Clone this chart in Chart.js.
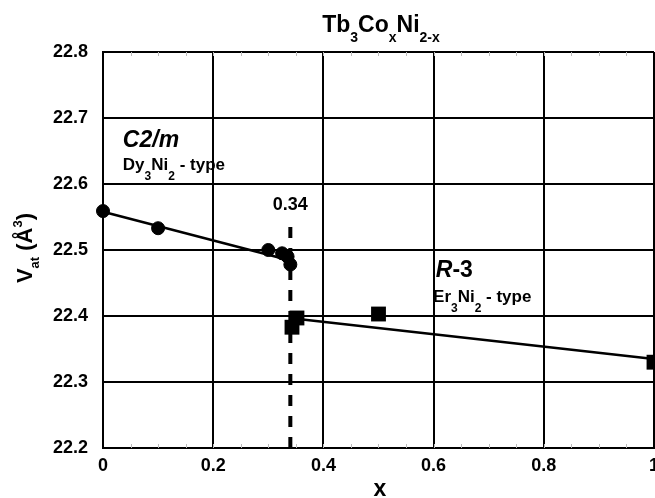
<!DOCTYPE html>
<html>
<head>
<meta charset="utf-8">
<script src="https://cdn.jsdelivr.net/npm/chart.js@4/dist/chart.umd.min.js"></script>
<style>
  html, body { margin: 0; padding: 0; background: #fff; }
  #wrap { width: 655px; height: 498px; }
</style>
</head>
<body>
<div id="wrap"><canvas id="chart" width="655" height="498"></canvas></div>
<script>
"use strict";

// ── Data ────────────────────────────────────────────────────────────────
const circleX = [0, 0.10, 0.30, 0.325, 0.335, 0.34];
const circleY = [22.559, 22.533, 22.500, 22.495, 22.490, 22.478];

const squareX = [0.343, 0.352, 0.50, 1.00];
const squareY = [22.383, 22.397, 22.403, 22.330];

const fitAX = [0, 0.34];
const fitAY = [22.558, 22.484];
const fitBX = [0.35, 1.00];
const fitBY = [22.396, 22.335];

const splitX = [0.34, 0.34];
const splitY = [22.2, 22.545];

const xTicks = [0, 0.2, 0.4, 0.6, 0.8, 1];
const yTicks = [22.2, 22.3, 22.4, 22.5, 22.6, 22.7, 22.8];

const pts = (xs, ys) => xs.map((x, i) => ({ x, y: ys[i] }));

const FONT = "'Liberation Sans', Arial, Helvetica, sans-serif";

// ── Rich text helper (sub/superscripts) ─────────────────────────────────
function drawRich(ctx, x, y, parts, align) {
  let total = 0;
  parts.forEach(p => {
    ctx.font = (p.italic ? "italic " : "") + "bold " + p.size + "px " + FONT;
    p.w = ctx.measureText(p.t).width;
    total += p.w;
  });
  let cx = align === "center" ? x - total / 2 : x;
  ctx.textAlign = "left";
  ctx.textBaseline = "alphabetic";
  parts.forEach(p => {
    ctx.font = (p.italic ? "italic " : "") + "bold " + p.size + "px " + FONT;
    ctx.fillText(p.t, cx, y + (p.dy || 0));
    cx += p.w;
  });
}

// ── Annotations, title, axis titles, minor ticks ────────────────────────
const decorPlugin = {
  id: "decor",
  beforeDatasetsDraw(chart) {
    const { ctx, chartArea: a, scales: { x } } = chart;
    ctx.save();
    ctx.strokeStyle = "#bbb";
    ctx.lineWidth = 1;
    for (let v = 0.05; v < 1; v += 0.05) {
      const px = Math.round(x.getPixelForValue(v)) + 0.5;
      ctx.beginPath();
      ctx.moveTo(px, a.top); ctx.lineTo(px, a.top + 4);
      ctx.moveTo(px, a.bottom); ctx.lineTo(px, a.bottom - 4);
      ctx.stroke();
    }
    ctx.restore();
  },
  afterDraw(chart) {
    const { ctx, scales: { x, y } } = chart;
    ctx.save();
    ctx.fillStyle = "#000";

    // title
    drawRich(ctx, 381, 32, [
      { t: "Tb", size: 23 }, { t: "3", size: 14, dy: 10 },
      { t: "Co", size: 23 }, { t: "x", size: 14, dy: 10 },
      { t: "Ni", size: 23 }, { t: "2-x", size: 14, dy: 10 }
    ], "center");

    // x axis title
    drawRich(ctx, 380, 496, [{ t: "x", size: 23 }], "center");

    // y axis title
    ctx.save();
    ctx.translate(32, 248);
    ctx.rotate(-Math.PI / 2);
    drawRich(ctx, 0, 0, [
      { t: "V", size: 22 }, { t: "at", size: 13, dy: 7 },
      { t: " (Å", size: 22 }, { t: "3", size: 13, dy: -10 },
      { t: ")", size: 22 }
    ], "center");
    ctx.restore();

    // phase labels
    drawRich(ctx, x.getPixelForValue(0.036), y.getPixelForValue(22.656),
      [{ t: "C2/m", size: 23, italic: true }], "left");
    drawRich(ctx, x.getPixelForValue(0.036), y.getPixelForValue(22.621), [
      { t: "Dy", size: 17 }, { t: "3", size: 12, dy: 10 },
      { t: "Ni", size: 17 }, { t: "2", size: 12, dy: 10 },
      { t: " - type", size: 17 }
    ], "left");
    drawRich(ctx, x.getPixelForValue(0.34), y.getPixelForValue(22.561),
      [{ t: "0.34", size: 18 }], "center");
    drawRich(ctx, x.getPixelForValue(0.604), y.getPixelForValue(22.459), [
      { t: "R", size: 23, italic: true }, { t: "-3", size: 23 }
    ], "left");
    drawRich(ctx, x.getPixelForValue(0.599), y.getPixelForValue(22.421), [
      { t: "Er", size: 17 }, { t: "3", size: 12, dy: 10 },
      { t: "Ni", size: 17 }, { t: "2", size: 12, dy: 10 },
      { t: " - type", size: 17 }
    ], "left");
    ctx.restore();
  }
};

// ── Chart ───────────────────────────────────────────────────────────────
new Chart(document.getElementById("chart"), {
  type: "scatter",
  data: {
    datasets: [
      {
        data: pts(circleX, circleY),
        pointStyle: "circle", pointRadius: 6.5, pointBorderWidth: 1,
        backgroundColor: "#000", borderColor: "#000", showLine: false
      },
      {
        data: pts(squareX, squareY),
        pointStyle: "rect", pointRadius: 10.5, pointBorderWidth: 0,
        backgroundColor: "#000", borderColor: "#000", showLine: false
      },
      {
        data: pts(fitAX, fitAY), showLine: true, pointRadius: 0,
        borderColor: "#000", borderWidth: 2.5
      },
      {
        data: pts(fitBX, fitBY), showLine: true, pointRadius: 0,
        borderColor: "#000", borderWidth: 2.5
      },
      {
        data: pts(splitX, splitY), showLine: true, pointRadius: 0,
        borderColor: "#000", borderWidth: 4, borderDash: [11, 10]
      }
    ]
  },
  options: {
    responsive: false,
    animation: false,
    clip: false,
    layout: { autoPadding: false, padding: { left: 0, top: 52, right: 1, bottom: 0 } },
    plugins: { legend: { display: false }, tooltip: { enabled: false }, title: { display: false } },
    scales: {
      x: {
        type: "linear", min: 0, max: 1,
        afterBuildTicks: s => { s.ticks = xTicks.map(v => ({ value: v })); },
        afterFit: s => { s.height = 50; s.paddingLeft = 0; s.paddingRight = 0; },
        ticks: {
          padding: 7, color: "#000",
          font: { family: FONT, size: 18, weight: "bold" },
          callback: v => String(v)
        },
        grid: { color: "#000", lineWidth: 2, drawTicks: false },
        border: { color: "#000", width: 2 }
      },
      y: {
        type: "linear", min: 22.2, max: 22.8,
        afterBuildTicks: s => { s.ticks = yTicks.map(v => ({ value: v })); },
        afterFit: s => { s.width = 103; },
        ticks: {
          padding: 15, color: "#000",
          font: { family: FONT, size: 18, weight: "bold" },
          callback: v => Number(v).toFixed(1)
        },
        grid: { color: "#000", lineWidth: 2, drawTicks: false },
        border: { color: "#000", width: 2 }
      }
    }
  },
  plugins: [decorPlugin]
});
</script>
</body>
</html>
